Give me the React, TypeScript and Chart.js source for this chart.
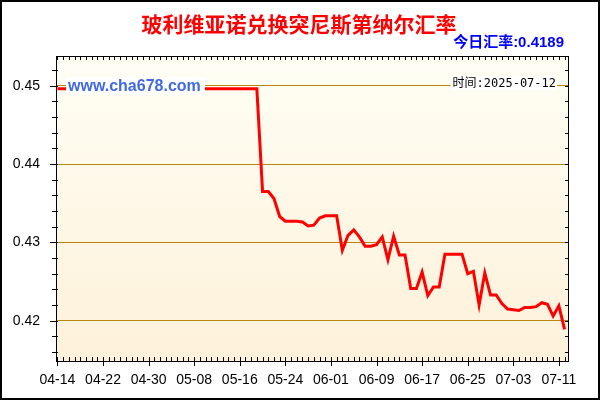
import { useEffect, useRef } from 'react'
import Chart from 'chart.js/auto'

// daily dates 04-14 .. 07-12
const dates = [
  '04-14', '04-15', '04-16', '04-17', '04-18', '04-19', '04-20', '04-21', '04-22', '04-23',
  '04-24', '04-25', '04-26', '04-27', '04-28', '04-29', '04-30', '05-01', '05-02', '05-03',
  '05-04', '05-05', '05-06', '05-07', '05-08', '05-09', '05-10', '05-11', '05-12', '05-13',
  '05-14', '05-15', '05-16', '05-17', '05-18', '05-19', '05-20', '05-21', '05-22', '05-23',
  '05-24', '05-25', '05-26', '05-27', '05-28', '05-29', '05-30', '05-31', '06-01', '06-02',
  '06-03', '06-04', '06-05', '06-06', '06-07', '06-08', '06-09', '06-10', '06-11', '06-12',
  '06-13', '06-14', '06-15', '06-16', '06-17', '06-18', '06-19', '06-20', '06-21', '06-22',
  '06-23', '06-24', '06-25', '06-26', '06-27', '06-28', '06-29', '06-30', '07-01', '07-02',
  '07-03', '07-04', '07-05', '07-06', '07-07', '07-08', '07-09', '07-10', '07-11', '07-12',
]

const rates = [
  0.4496, 0.4496, 0.4496, 0.4496, 0.4496, 0.4496, 0.4496, 0.4496, 0.4496, 0.4496,
  0.4496, 0.4496, 0.4496, 0.4496, 0.4496, 0.4496, 0.4496, 0.4496, 0.4496, 0.4496,
  0.4496, 0.4496, 0.4496, 0.4496, 0.4496, 0.4496, 0.4496, 0.4496, 0.4496, 0.4496,
  0.4496, 0.4496, 0.4496, 0.4496, 0.4496, 0.4496, 0.4365, 0.4365, 0.4356, 0.4333,
  0.4327, 0.4327, 0.4327, 0.4326, 0.4321, 0.4322, 0.4331, 0.4334, 0.4334, 0.4334,
  0.4290, 0.4309, 0.4316, 0.4307, 0.4295, 0.4295, 0.4297, 0.4307, 0.4278, 0.4308,
  0.4284, 0.4284, 0.4241, 0.4241, 0.4262, 0.4232, 0.4243, 0.4243, 0.4285, 0.4285,
  0.4285, 0.4285, 0.4260, 0.4263, 0.4220, 0.4261, 0.4233, 0.4233, 0.4222, 0.4215,
  0.4214, 0.4213, 0.4217, 0.4217, 0.4218, 0.4223, 0.4221, 0.4206, 0.4219, 0.4189,
]

const xTickIdx = [0, 8, 16, 24, 32, 40, 48, 56, 64, 72, 80, 88]
const yTicks = [0.42, 0.43, 0.44, 0.45]

const title = '玻利维亚诺兑换突尼斯第纳尔汇率'
const todayText = '今日汇率:0.4189'
const timeText = '时间:2025-07-12'
const siteText = 'www.cha678.com'

const decor = {
  id: 'decor',
  beforeDraw(chart: any) {
    const { ctx, chartArea: a } = chart
    ctx.save()
    ctx.fillStyle = '#fff'
    ctx.fillRect(0, 0, chart.width, chart.height)
    const g = ctx.createLinearGradient(0, a.top, 0, a.bottom)
    g.addColorStop(0, '#fffef4')
    g.addColorStop(1, '#fdf1da')
    ctx.fillStyle = g
    ctx.fillRect(a.left, a.top, a.right - a.left, a.bottom - a.top)
    ctx.restore()
  },
  afterDatasetsDraw(chart: any) {
    const { ctx, chartArea: a } = chart
    const xs = chart.scales.x
    const ys = chart.scales.y
    ctx.save()

    // frame
    ctx.strokeStyle = '#000'
    ctx.lineWidth = 1
    ctx.strokeRect(a.left + 0.5, a.top + 0.5, a.right - a.left, a.bottom - a.top)

    // tick marks
    ctx.beginPath()
    for (let i = 0; i < dates.length; i++) {
      const px = Math.round(xs.getPixelForValue(i)) + 0.5
      ctx.moveTo(px, a.bottom - 4)
      ctx.lineTo(px, a.bottom + (i % 8 === 0 ? 5 : 0))
      ctx.moveTo(px, a.top)
      ctx.lineTo(px, a.top + 4)
    }
    for (let k = 0; k <= 18; k++) {
      const v = 0.416 + k * 0.002
      const py = Math.round(ys.getPixelForValue(v)) + 0.5
      const major = k % 5 === 2
      ctx.moveTo(a.left - (major ? 6 : 4), py)
      ctx.lineTo(a.left + 2, py)
      ctx.moveTo(a.right - 3, py)
      ctx.lineTo(a.right, py)
    }
    ctx.stroke()

    // site watermark
    ctx.fillStyle = '#fff'
    ctx.fillRect(66, 77, 139, 17)
    ctx.font = 'bold 16px "Liberation Sans", Arial, sans-serif'
    ctx.fillStyle = '#4169e1'
    ctx.textAlign = 'left'
    ctx.textBaseline = 'alphabetic'
    ctx.fillText(siteText, 68, 91)

    // time stamp
    ctx.font = '12px "DejaVu Sans Mono", "Noto Sans CJK SC", monospace'
    const tw = ctx.measureText(timeText).width
    ctx.fillStyle = '#fff'
    ctx.fillRect(556 - tw - 2, 76, tw + 3, 14)
    ctx.fillStyle = '#000'
    ctx.textAlign = 'right'
    ctx.fillText(timeText, 556, 87)

    // title
    ctx.font = 'bold 21px "Noto Sans CJK SC", sans-serif'
    ctx.fillStyle = '#ff0000'
    ctx.textAlign = 'center'
    ctx.textBaseline = 'middle'
    ctx.fillText(title, 299, 24)

    // today rate
    ctx.font = 'bold 15px "Liberation Sans", "Noto Sans CJK SC", sans-serif'
    ctx.fillStyle = '#0000ff'
    ctx.textAlign = 'right'
    ctx.fillText(todayText, 564, 43)

    // outer border
    ctx.strokeStyle = '#000'
    ctx.lineWidth = 2
    ctx.strokeRect(1, 1, chart.width - 2, chart.height - 2)
    ctx.restore()
  },
}

export default function App() {
  const chartRef = useRef<HTMLCanvasElement>(null)

  useEffect(() => {
    if (!chartRef.current) return

    const chart = new Chart(chartRef.current, {
      type: 'line',
      data: {
        datasets: [{
          data: rates.map((r, i) => ({ x: i, y: r })),
          borderColor: '#ff0000',
          borderWidth: 3,
          pointRadius: 0,
          tension: 0,
          fill: false
        }]
      },
      options: {
        animation: false,
        responsive: false,
        devicePixelRatio: 1,
        layout: { padding: { top: 56, right: 32, left: 0, bottom: 0 } },
        plugins: {
          legend: { display: false },
          tooltip: { enabled: false }
        },
        scales: {
          x: {
            type: 'linear',
            min: -0.25,
            max: 89.6,
            afterBuildTicks: (s: any) => { s.ticks = xTickIdx.map(v => ({ value: v })) },
            afterFit: (s: any) => { s.height = 39 },
            ticks: {
              autoSkip: false,
              maxRotation: 0,
              padding: 11,
              color: '#000',
              font: { family: '"Liberation Sans", Arial, sans-serif', size: 14 },
              callback: (v: any) => dates[v] ?? ''
            },
            grid: { display: false, drawTicks: false },
            border: { display: false }
          },
          y: {
            type: 'linear',
            min: 0.41486,
            max: 0.45379,
            afterBuildTicks: (s: any) => { s.ticks = yTicks.map(v => ({ value: v })) },
            afterFit: (s: any) => { s.width = 56 },
            ticks: {
              autoSkip: false,
              padding: 16,
              color: '#000',
              font: { family: '"Liberation Sans", Arial, sans-serif', size: 14 },
              callback: (v: any) => Number(v).toFixed(2)
            },
            grid: { color: '#b8860b', lineWidth: 1, drawTicks: false },
            border: { display: false }
          }
        }
      },
      plugins: [decor]
    })

    return () => chart.destroy()
  }, [])

  return (
    <div style={{ position: 'fixed', left: 0, top: 0, width: 600, height: 400 }}>
      <canvas ref={chartRef} width={600} height={400}></canvas>
    </div>
  )
}
